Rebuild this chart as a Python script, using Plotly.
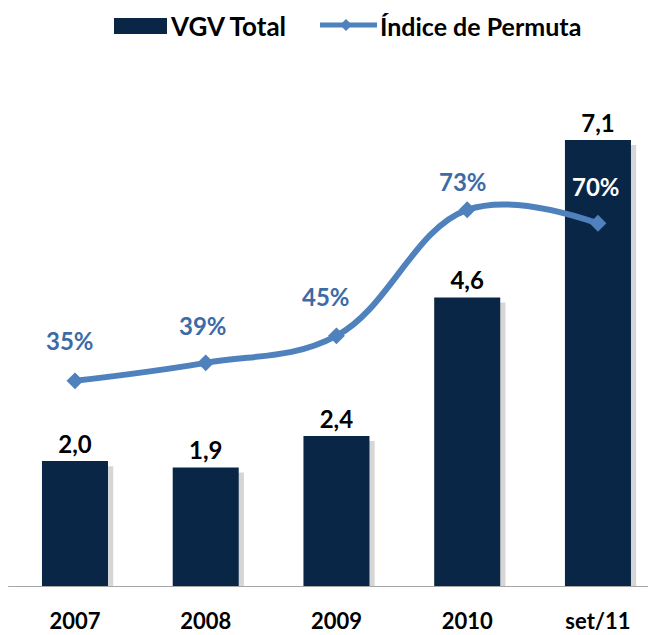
import plotly.graph_objects as go

categories = ["2007", "2008", "2009", "2010", "set/11"]
vgv_total = [2.0, 1.9, 2.4, 4.6, 7.1]
indice_permuta = [35, 39, 45, 73, 70]

# styling
BAR = "#0a2647"
LINE = "#4f81bd"
PCT_TXT = "#3d6ba6"
FONT = "Lato"
pct_colors = [PCT_TXT, PCT_TXT, PCT_TXT, PCT_TXT, "white"]
pct_yshift = [40, 37, 39, 28, 37]
pct_xshift = [-5, -3, -10, -4, -2]

fig = go.Figure()

# soft shadow behind bars
fig.add_trace(go.Bar(
    x=categories, y=[v - 0.03 for v in vgv_total], base=-0.05,
    width=0.505, offset=-0.2525 + 0.04,
    marker=dict(color="rgba(0,0,0,0.16)", line=dict(width=0)),
    hoverinfo="skip", showlegend=False, yaxis="y",
))
fig.add_trace(go.Bar(
    x=categories, y=vgv_total, name="VGV Total",
    width=0.505, offset=-0.2525,
    marker=dict(color=BAR, line=dict(width=0)),
    texttemplate="%{y:.1f}", textposition="outside",
    textfont=dict(family=FONT, size=24, color="black", weight="bold"),
    cliponaxis=False, showlegend=False, yaxis="y",
))
fig.add_trace(go.Scatter(
    x=categories, y=indice_permuta, name="Índice de Permuta",
    mode="lines+markers", yaxis="y2",
    line=dict(color=LINE, width=6, shape="spline", smoothing=1.1),
    marker=dict(symbol="diamond", size=13, color=LINE),
    showlegend=False, cliponaxis=False,
))

annotations = []
for i, (v, col, ys, xs) in enumerate(zip(indice_permuta, pct_colors, pct_yshift, pct_xshift)):
    annotations.append(dict(
        x=i, y=v, xref="x", yref="y2", text=f"{v:.0f}%", showarrow=False,
        yshift=ys, xshift=xs, font=dict(family=FONT, size=24, color=col, weight="bold"),
    ))

# custom legend (paper coords: plot area spans screen x 10..656 px, y 50..587 px)
def px(x):
    return (x - 10) / 646

def py(y):
    return (587 - y) / 537

annotations += [
    dict(x=px(168), y=py(26), xref="paper", yref="paper", text="VGV Total",
         xanchor="left", yanchor="middle", showarrow=False,
         font=dict(family=FONT, size=26, color="black", weight="bold")),
    dict(x=px(378), y=py(26), xref="paper", yref="paper", text="Índice de Permuta",
         xanchor="left", yanchor="middle", showarrow=False,
         font=dict(family=FONT, size=25, color="black", weight="bold")),
]
dx, dy = 6 / 646, 6 / 537
cx, cy = px(346), py(25)
shapes = [
    dict(type="rect", xref="paper", yref="paper", x0=px(114), x1=px(167), y0=py(34), y1=py(18),
         fillcolor=BAR, line=dict(width=0)),
    dict(type="line", xref="paper", yref="paper", x0=px(320), x1=px(377), y0=py(25), y1=py(25),
         line=dict(color=LINE, width=5)),
    dict(type="path", xref="paper", yref="paper",
         path=f"M {cx-dx},{cy} L {cx},{cy+dy} L {cx+dx},{cy} L {cx},{cy-dy} Z",
         fillcolor=LINE, line=dict(width=0)),
]

# page body has an 8px default margin, so the figure is sized to fit inside the window
fig.update_layout(
    width=648, height=627,
    margin=dict(l=2, r=0, t=42, b=48),
    paper_bgcolor="white", plot_bgcolor="white",
    barmode="overlay", separators=",.",
    showlegend=False,
    xaxis=dict(
        type="category", range=[-0.497, 4.444],
        showgrid=False, zeroline=False, automargin=False,
        showline=False, ticks="outside", ticklen=15, tickcolor="rgba(0,0,0,0)",
        tickfont=dict(family=FONT, size=22, color="black", weight="bold"),
    ),
    yaxis=dict(range=[0, 8.53], showgrid=False, zeroline=False, showticklabels=False,
               showline=False, automargin=False),
    yaxis2=dict(range=[-10.8, 108.5], overlaying="y", side="right", showgrid=False,
                zeroline=False, showticklabels=False, showline=False, automargin=False),
    annotations=annotations,
    shapes=shapes + [
        dict(type="line", xref="paper", yref="y", x0=-0.003, x1=1, y0=0, y1=0,
             line=dict(color="#a6a6a6", width=2), layer="above"),
    ],
)

fig.write_html("out.html")
